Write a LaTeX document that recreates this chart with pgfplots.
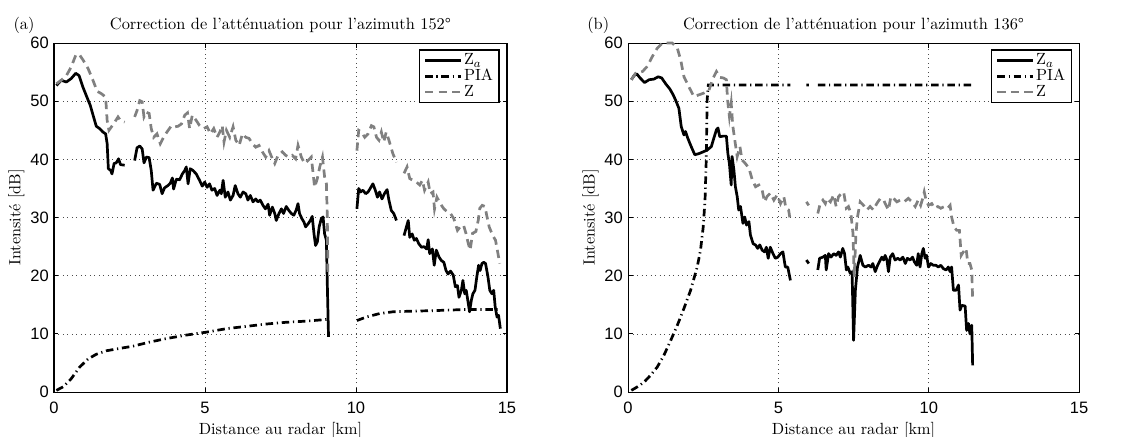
\documentclass[border=0pt]{standalone}
\usepackage{fontspec}
\usepackage{pgfplots}
\pgfplotsset{compat=1.18}
\newfontfamily\hv{Liberation Sans}
\definecolor{zgrey}{RGB}{128,128,128}
\pgfplotsset{
  matstyle/.style={
    scale only axis, width=302pt, height=232.7pt,
    xmin=0, xmax=15, ymin=0, ymax=60,
    xtick={0,5,10,15}, ytick={0,10,20,30,40,50,60},
    tick align=inside, xtick pos=both, ytick pos=both,
    major tick length=3pt,
    axis line style={line width=0.7pt},
    every tick/.style={line width=0.6pt, black},
    grid=major,
    major grid style={line width=0.5pt, black!70, dash pattern=on 0.6pt off 2.4pt},
    tick label style={font=\hv\fontsize{11}{12}\selectfont},
    /pgf/number format/assume math mode=true,
    xticklabel style={yshift=-3.2pt},
    label style={font=\fontsize{10.8}{12}\selectfont},
    title style={font=\fontsize{10.9}{12}\selectfont, at={(0.5,1)}, anchor=base, yshift=3.3pt},
    xlabel={Distance au radar [km]},
    ylabel={Intensité [dB]},
    xlabel style={yshift=1pt},
    ylabel style={yshift=-3pt},
    unbounded coords=jump,
    clip=false,
    legend cell align=left,
    legend image code/.code={\draw[#1] (0pt,0pt) -- (24pt,0pt);},
    legend style={at={(0.984,0.982)}, anchor=north east, draw=black, line width=0.9pt,
      font=\fontsize{10.8}{11}\selectfont, inner xsep=3pt, inner ysep=1pt, row sep=-1.5pt,
      nodes={inner xsep=1pt, inner ysep=1.5pt}},
  },
  za/.style={black, line width=1.8pt, line join=round},
  pia/.style={black, line width=1.8pt, dash pattern=on 5pt off 2.5pt on 0.8pt off 2.5pt},
  zz/.style={zgrey, line width=1.8pt, dash pattern=on 5.5pt off 3.5pt},
}
\begin{document}
\begin{tikzpicture}
\useasboundingbox (0,0) rectangle (758pt,290.7pt);
% ---------------- panel (a)
\begin{axis}[matstyle, at={(36pt,29.3pt)}, anchor=south west,
  title={Correction de l’atténuation pour l’azimuth 152°}]
\addplot[za] table {
0.08 52.7
0.24 53.6
0.41 53.3
0.57 53.9
0.72 54.8
0.83 54.4
0.96 52.4
1.09 50.7
1.20 49.3
1.31 47.3
1.40 45.7
1.51 45.3
1.62 44.7
1.71 44.4
1.76 42.7
1.80 38.4
1.88 38.1
1.92 37.5
1.99 39.3
2.06 39.4
2.14 40.1
2.20 39.1
2.34 39.0
2.50 nan
2.67 39.8
2.75 42.0
2.84 42.3
2.92 41.8
2.98 39.4
3.06 40.4
3.15 40.3
3.22 38.1
3.28 34.7
3.39 35.9
3.50 35.7
3.58 34.1
3.66 35.1
3.77 35.5
3.85 35.9
3.92 36.8
3.96 34.9
4.05 36.6
4.16 36.5
4.25 37.5
4.33 38.1
4.38 38.7
4.44 35.8
4.51 38.4
4.60 38.1
4.71 37.5
4.82 36.4
4.91 35.4
4.99 36.1
5.07 35.2
5.15 35.8
5.23 34.7
5.32 35.0
5.40 33.8
5.49 34.7
5.54 34.1
5.60 36.4
5.67 33.5
5.76 34.4
5.84 33.0
5.93 33.8
6.00 35.5
6.09 34.1
6.17 33.5
6.26 34.4
6.35 34.1
6.42 33.0
6.50 33.8
6.59 32.7
6.68 33.2
6.75 32.7
6.83 33.0
6.92 32.1
7.00 31.5
7.09 32.3
7.14 30.4
7.23 31.8
7.31 30.7
7.36 29.5
7.45 30.7
7.53 31.5
7.60 30.7
7.69 31.9
7.78 31.2
7.86 30.7
7.94 30.4
8.02 31.3
8.08 32.4
8.13 30.7
8.21 29.8
8.28 29.2
8.33 28.4
8.41 28.9
8.49 29.5
8.55 30.2
8.61 27.2
8.66 25.2
8.72 25.8
8.78 28.4
8.85 29.8
8.91 30.1
8.96 27.2
9.02 26.1
9.05 18.6
9.09 9.5
9.50 nan
10.03 31.5
10.09 35.0
10.15 34.4
10.23 34.7
10.32 34.1
10.40 34.4
10.47 35.0
10.56 35.8
10.64 34.7
10.71 33.5
10.78 34.4
10.86 33.2
10.95 34.2
11.03 34.8
11.09 33.0
11.17 31.2
11.25 30.7
11.34 29.5
11.45 nan
11.59 26.9
11.67 28.4
11.73 29.5
11.78 26.6
11.86 27.2
11.93 26.1
12.00 26.4
12.08 25.5
12.17 24.9
12.25 25.0
12.34 24.6
12.39 26.2
12.44 23.8
12.53 24.6
12.59 21.8
12.66 24.4
12.75 23.2
12.83 22.6
12.91 22.3
12.98 20.9
13.05 20.3
13.13 20.8
13.22 20.1
13.29 18.1
13.36 18.3
13.41 16.3
13.49 17.5
13.54 19.2
13.60 16.9
13.65 17.5
13.71 15.5
13.76 13.8
13.82 15.8
13.87 16.9
13.94 17.5
14.00 19.8
14.06 21.8
14.11 20.9
14.17 22.1
14.23 22.3
14.29 22.1
14.37 19.8
14.43 17.5
14.50 16.9
14.56 17.5
14.61 14.6
14.67 12.9
14.72 13.2
14.78 10.9
};
\addlegendentry{Z$_a$}
\addplot[pia] table {
0.08 0.3
0.30 0.9
0.57 2.3
0.85 4.3
1.13 5.7
1.40 6.5
1.73 7.1
2.17 7.5
2.62 7.9
3.17 8.6
3.72 9.2
4.38 9.8
5.04 10.3
5.71 10.9
6.37 11.3
7.03 11.7
7.69 12.0
8.36 12.2
9.05 12.5
9.50 nan
10.03 12.3
10.34 12.9
10.78 13.5
11.22 13.8
11.78 13.9
12.55 14.0
13.65 14.2
14.78 14.2
};
\addlegendentry{PIA}
\addplot[zz] table {
0.08 53.0
0.24 53.6
0.41 54.4
0.57 55.9
0.72 57.9
0.83 58.1
0.96 57.1
1.13 55.6
1.29 53.6
1.43 51.7
1.57 51.3
1.71 50.7
1.76 46.7
1.82 45.0
1.93 45.8
2.01 46.4
2.12 47.3
2.20 46.7
2.34 46.4
2.50 nan
2.67 47.3
2.75 48.4
2.84 50.1
2.92 49.9
2.98 47.3
3.06 48.1
3.15 47.9
3.22 45.3
3.30 43.8
3.41 44.4
3.52 42.7
3.63 43.8
3.74 44.7
3.89 45.8
4.00 45.6
4.11 45.7
4.22 46.1
4.33 47.6
4.42 48.0
4.49 45.3
4.58 47.6
4.71 46.7
4.82 45.8
4.96 45.3
5.07 45.6
5.18 44.4
5.29 45.3
5.40 43.8
5.49 44.7
5.57 45.8
5.63 43.0
5.71 45.0
5.82 43.8
5.93 45.6
6.02 43.3
6.13 42.4
6.24 44.4
6.35 43.8
6.46 43.6
6.57 42.7
6.68 42.1
6.79 42.4
6.90 41.3
7.01 40.4
7.12 41.5
7.20 40.5
7.31 39.3
7.42 40.7
7.56 41.3
7.67 40.7
7.78 40.4
7.89 40.7
8.00 40.1
8.08 42.4
8.19 40.4
8.30 39.3
8.41 39.8
8.52 40.4
8.63 35.2
8.72 36.7
8.80 38.7
8.89 40.4
8.96 37.0
9.02 35.8
9.05 30.1
9.07 20.0
9.50 nan
10.03 41.5
10.09 45.0
10.18 44.7
10.29 43.8
10.40 44.4
10.51 45.8
10.59 45.6
10.68 43.8
10.76 43.3
10.84 44.7
10.92 43.0
11.00 44.7
11.09 43.3
11.22 41.0
11.34 39.5
11.45 nan
11.59 37.6
11.69 38.7
11.78 36.7
11.89 36.4
12.00 36.1
12.11 35.6
12.20 36.4
12.27 34.7
12.39 36.1
12.46 34.1
12.55 34.4
12.60 31.5
12.68 33.5
12.79 32.4
12.91 31.5
13.02 31.0
13.13 30.7
13.24 29.8
13.36 27.8
13.45 28.4
13.56 28.7
13.64 27.3
13.72 25.5
13.78 24.4
13.86 27.3
13.97 27.6
14.05 29.6
14.10 31.6
14.18 32.1
14.27 31.9
14.34 30.1
14.41 28.4
14.52 27.0
14.62 26.1
14.68 24.4
14.76 22.1
};
\addlegendentry{Z}
\node[anchor=base west, font=\fontsize{10.9}{12}\selectfont] at (rel axis cs:-0.101,1.04) {(a)};
\end{axis}
% ---------------- panel (b)
\begin{axis}[matstyle, at={(418.7pt,29.3pt)}, anchor=south west, width=300.7pt,
  title={Correction de l’atténuation pour l’azimuth 136°}]
\addplot[za] table {
0.11 53.7
0.20 54.4
0.29 54.7
0.40 54.0
0.55 53.2
0.70 53.7
0.86 53.8
1.00 54.2
1.12 54.0
1.25 53.0
1.39 52.1
1.50 51.1
1.58 50.2
1.69 48.8
1.77 45.6
1.86 44.2
1.91 44.8
1.99 43.6
2.10 42.2
2.22 40.8
2.36 41.0
2.50 41.3
2.63 41.6
2.77 42.2
2.85 43.6
2.94 45.1
2.99 45.4
3.05 43.9
3.16 44.0
3.27 44.0
3.32 41.0
3.37 39.3
3.43 35.6
3.46 40.5
3.52 38.2
3.57 35.3
3.63 33.6
3.68 31.3
3.74 31.9
3.82 29.0
3.88 30.1
3.94 28.7
4.02 29.3
4.07 27.0
4.16 25.5
4.24 25.3
4.31 24.7
4.38 25.3
4.46 24.4
4.54 24.1
4.60 24.9
4.66 23.0
4.73 24.9
4.82 23.8
4.90 23.0
4.98 23.2
5.07 23.8
5.15 24.1
5.23 21.5
5.31 21.5
5.40 19.2
5.60 nan
5.93 22.7
6.01 22.1
6.15 nan
6.31 21.0
6.37 23.0
6.48 23.2
6.56 23.5
6.59 21.0
6.67 23.8
6.75 23.2
6.84 23.8
6.92 23.5
7.00 24.1
7.06 23.2
7.14 24.7
7.20 23.8
7.26 21.0
7.31 21.5
7.39 20.4
7.45 20.7
7.50 8.9
7.56 17.5
7.63 21.5
7.72 23.5
7.81 21.8
7.89 21.5
8.00 21.8
8.08 21.5
8.14 22.1
8.22 20.7
8.30 21.8
8.39 22.7
8.44 23.2
8.50 22.7
8.55 23.5
8.61 22.7
8.66 20.7
8.72 23.2
8.80 23.8
8.88 22.7
8.97 23.0
9.05 22.7
9.14 23.2
9.22 22.1
9.29 23.0
9.38 22.7
9.46 23.2
9.52 22.4
9.60 21.8
9.65 23.8
9.71 21.5
9.77 23.8
9.82 24.7
9.88 23.0
9.93 23.5
9.99 21.5
10.07 22.1
10.15 21.8
10.24 21.8
10.32 21.5
10.40 21.8
10.49 21.2
10.58 21.0
10.65 21.5
10.71 20.7
10.76 21.5
10.82 17.5
10.91 17.5
10.99 18.4
11.04 14.1
11.10 14.9
11.21 14.8
11.26 10.6
11.32 11.8
11.37 10.0
11.43 11.5
11.46 4.6
};
\addlegendentry{Z$_a$}
\addplot[pia] table {
0.11 0.3
0.31 0.9
0.53 1.7
0.75 2.9
0.97 4.3
1.19 6.3
1.42 8.9
1.64 11.5
1.86 14.4
2.08 17.5
2.30 21.5
2.41 24.4
2.50 28.4
2.56 33.0
2.60 39.9
2.63 50.2
2.67 52.8
5.40 52.8
5.60 nan
5.93 52.8
6.01 52.8
6.15 nan
6.31 52.8
11.46 52.8
};
\addlegendentry{PIA}
\addplot[zz] table {
0.11 53.7
0.25 54.8
0.48 55.1
0.64 56.0
0.81 57.7
0.97 59.1
1.14 60.0
1.31 60.0
1.47 60.0
1.64 59.1
1.75 57.1
1.86 54.2
2.02 52.5
2.19 50.8
2.36 51.1
2.52 51.4
2.69 51.9
2.83 54.0
2.94 55.1
3.05 54.1
3.17 54.0
3.27 53.7
3.31 50.2
3.37 47.4
3.43 49.7
3.48 45.9
3.55 43.3
3.63 40.5
3.72 42.2
3.79 39.9
3.90 39.3
4.02 38.5
4.13 36.5
4.24 35.3
4.35 35.6
4.46 34.7
4.54 32.7
4.62 33.6
4.73 34.2
4.85 33.0
4.96 33.9
5.07 32.4
5.18 33.6
5.25 31.6
5.34 31.3
5.40 29.3
5.60 nan
5.93 32.7
6.01 32.1
6.15 nan
6.31 30.7
6.39 32.4
6.48 33.0
6.56 32.4
6.61 33.3
6.73 32.7
6.84 33.9
6.92 31.9
7.00 33.6
7.11 34.2
7.17 34.4
7.26 31.6
7.33 31.9
7.41 30.7
7.48 27.3
7.52 19.8
7.58 27.3
7.63 30.1
7.72 32.7
7.83 32.1
7.94 31.3
8.05 31.9
8.16 31.3
8.27 32.4
8.39 33.3
8.50 33.0
8.58 32.1
8.66 31.3
8.74 33.6
8.83 33.3
8.94 32.7
9.05 33.0
9.18 32.7
9.32 33.3
9.44 32.7
9.55 31.9
9.65 33.0
9.73 32.1
9.80 33.3
9.85 34.4
9.91 33.0
9.99 32.1
10.10 32.4
10.19 31.6
10.30 31.9
10.40 31.6
10.52 31.9
10.63 31.6
10.71 32.1
10.76 30.1
10.84 28.4
10.93 27.8
11.02 27.8
11.08 23.5
11.15 24.1
11.24 24.7
11.30 22.1
11.37 22.1
11.43 21.0
11.46 15.8
};
\addlegendentry{Z}
\node[anchor=base west, font=\fontsize{10.9}{12}\selectfont] at (rel axis cs:-0.102,1.04) {(b)};
\end{axis}
\end{tikzpicture}
\end{document}
